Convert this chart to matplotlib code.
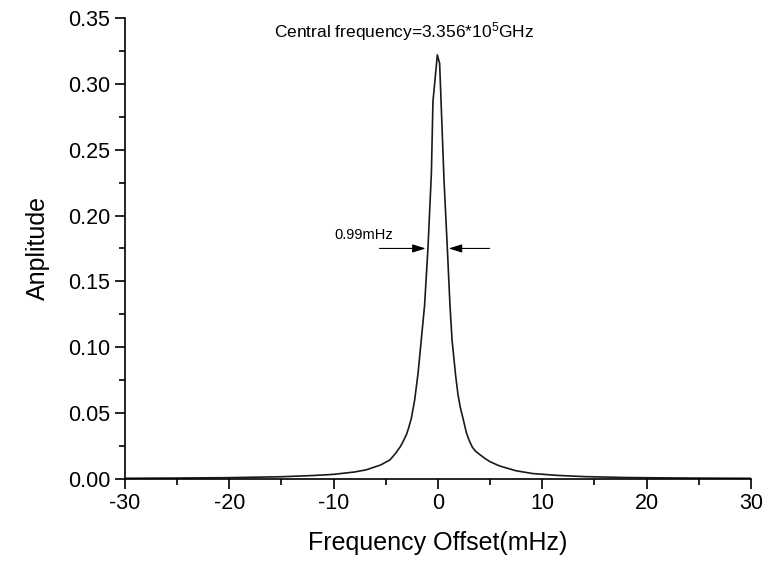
import matplotlib
matplotlib.use('Agg')
import matplotlib.pyplot as plt
from matplotlib.ticker import MultipleLocator

plt.rcParams['font.family'] = ['Liberation Sans', 'DejaVu Sans']
plt.rcParams['mathtext.default'] = 'regular'
plt.rcParams['axes.unicode_minus'] = False

# values
freq_offset = [-30, -25, -20, -15, -12, -10, -8, -6.9, -5.5, -4.6, -4.1, -3.6,
               -3.3, -3.0, -2.8, -2.55, -2.23, -1.91, -1.6, -1.28, -0.96, -0.63,
               -0.48, -0.06, 0.16, 0.58, 0.90, 1.15, 1.35, 1.70, 1.92, 2.15,
               2.40, 2.72, 3.00, 3.30, 3.60, 4.00, 4.50, 5.00, 5.90, 7.50,
               9.10, 11.5, 14.0, 18.0, 22.0, 26.0, 30.0]
amplitude = [0.0004, 0.0006, 0.0009, 0.0016, 0.0025, 0.0034, 0.0052, 0.0068,
             0.0105, 0.0144, 0.019, 0.0245, 0.029, 0.034, 0.039, 0.046, 0.060,
             0.080, 0.1055, 0.132, 0.175, 0.232, 0.2865, 0.322, 0.3156, 0.227,
             0.175, 0.132, 0.1055, 0.078, 0.064, 0.054, 0.046, 0.0352, 0.029,
             0.024, 0.021, 0.0185, 0.0155, 0.0130, 0.0098, 0.0061, 0.0040,
             0.0026, 0.0017, 0.0010, 0.0007, 0.0005, 0.0004]

width_label = '0.99mHz'
title_text = 'Central frequency=3.356*10$^5$GHz'
arrow_level = 0.175
left_arrow = (-5.6, -1.18)    # tail, tip
right_arrow = (4.95, 1.03)

fig = plt.figure(figsize=(7.67, 5.64), dpi=100)
ax = fig.add_axes([0.163, 0.151, 0.816, 0.817])

ax.plot(freq_offset, amplitude, color='#1a1a1a', lw=1.2)

ax.set_xlim(-30, 30)
ax.set_ylim(0, 0.35)
ax.xaxis.set_major_locator(MultipleLocator(10))
ax.xaxis.set_minor_locator(MultipleLocator(5))
ax.yaxis.set_major_locator(MultipleLocator(0.05))
ax.yaxis.set_minor_locator(MultipleLocator(0.025))
ax.yaxis.set_major_formatter(plt.FormatStrFormatter('%.2f'))

for s in ['top', 'right']:
    ax.spines[s].set_visible(False)
for s in ['left', 'bottom']:
    ax.spines[s].set_linewidth(1.2)
ax.tick_params(which='major', direction='out', length=7, width=1.2, labelsize=15.5)
ax.tick_params(which='minor', direction='out', length=4, width=1.2)

ax.set_xlabel('Frequency Offset(mHz)', fontsize=18, labelpad=12)
ax.set_ylabel('Anplitude', fontsize=18, labelpad=13)

ax.text(-3.2, 0.340, title_text, fontsize=12.5, ha='center', va='center')
ax.text(-9.9, 0.185, width_label, fontsize=10.5, ha='left', va='center')

arrow_style = dict(arrowstyle='-|>,head_length=0.8,head_width=0.25',
                   color='black', lw=0.8, shrinkA=0, shrinkB=0)
ax.annotate('', xy=(left_arrow[1], arrow_level), xytext=(left_arrow[0], arrow_level),
            arrowprops=arrow_style)
ax.annotate('', xy=(right_arrow[1], arrow_level), xytext=(right_arrow[0], arrow_level),
            arrowprops=arrow_style)

fig.savefig('out.png', dpi=100)
